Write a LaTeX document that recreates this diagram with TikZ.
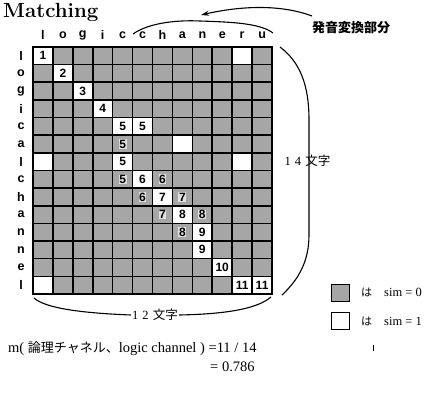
\documentclass[tikz,border=0pt]{standalone}
\usepackage{fontspec}
\newfontfamily\tms{Liberation Serif}
\newfontfamily\hv{Liberation Sans}
\newfontfamily\cjk{Noto Sans CJK JP}
\usetikzlibrary{arrows.meta}
\definecolor{halftone}{gray}{0.65}
\tikzset{
  gridline/.style={line width=1.6pt, line cap=rect},
  lab/.style={font=\hv\bfseries\fontsize{12.5}{12.5}\selectfont, inner sep=0pt},
  num/.style={font=\hv\bfseries\fontsize{12}{12}\selectfont, inner sep=0.6pt},
  numsh/.style={num, fill=black!12},
  brace/.style={line width=1.1pt},
  txt/.style={font=\tms\fontsize{14.5}{14.5}\selectfont, inner sep=0pt},
}
\begin{document}
\begin{tikzpicture}[x=1pt,y=-1pt]
\useasboundingbox (0,0) rectangle (426,397);
\def\cw{19.92}\def\ch{17.64}
% title
\node[anchor=base west, inner sep=0pt, font=\bfseries\fontsize{20.5}{20.5}\selectfont] (title) at (3,17) {Matching};
% cells
\fill[halftone] (33,47) rectangle (272,294);
\foreach \r/\c in {0/0,1/1,2/2,3/3,4/4,4/5,0/10,5/7,6/0,6/4,6/10,7/5,8/6,9/7,10/8,11/8,12/9,13/10,13/11,13/0}
  \fill[white] ({33+\c*\cw},{47+\r*\ch}) rectangle ++(\cw,\ch);
\foreach \i in {0,...,12} \draw[gridline] ({33+\i*\cw},47) -- ({33+\i*\cw},294);
\foreach \j in {0,...,14} \draw[gridline] (33,{47+\j*\ch}) -- (272,{47+\j*\ch});
% numbers in white cells
\foreach \r/\c/\n in {0/0/1,1/1/2,2/2/3,3/3/4,4/4/5,4/5/5,6/4/5,7/5/6,8/6/7,9/7/8,10/8/9,11/8/9,12/9/10,13/10/11,13/11/11}
  \node[num] (n\r-\c) at ({33+(\c+0.5)*\cw},{47+(\r+0.5)*\ch}) {\n};
% numbers in shaded cells
\foreach \r/\c/\n in {5/4/5,7/4/5,7/6/6,8/5/6,8/7/7,9/6/7,9/8/8,10/7/8}
  \node[numsh] (n\r-\c) at ({33+(\c+0.5)*\cw},{47+(\r+0.5)*\ch}) {\n};
% column / row letters
\foreach \l [count=\k from 0] in {l,o,g,i,c,c,h,a,n,e,r,u}
  \node[lab] (col\k) at ({33+(\k+0.5)*\cw},35) {\l};
\foreach \l [count=\k from 0] in {l,o,g,i,c,a,l,c,h,a,n,n,e,l}
  \node[lab] (row\k) at (21,{47+(\k+0.5)*\ch}) {\l};
% top arc over "chaneru" and arrow
\coordinate (arcL) at (133,34);
\coordinate (arcM) at (200,21);
\coordinate (arcR) at (273,33);
\draw[brace] (arcL) .. controls (150,22) and (180,20) .. (arcM) .. controls (230,22) and (260,23) .. (arcR);
\node[anchor=west, inner sep=0pt, font=\cjk\bfseries\fontsize{13}{13}\selectfont] (phon) at (312,28) {発音変換部分};
\coordinate (arrS) at (312,16);
\coordinate (arrE) at (201,15);
\draw[line width=1.1pt, -{Stealth[length=8pt,width=5pt]}] (arrS) .. controls (280,4) and (240,6) .. (arrE);
% right brace
\coordinate (rbT) at (280,47);
\coordinate (rbB) at (282,295);
\draw[brace] (rbT) .. controls (300,62) and (309,85) .. (309,120) -- (309,235) .. controls (309,262) and (298,280) .. (rbB);
\node[inner sep=0pt, font=\tms\fontsize{12.5}{12.5}\selectfont] (r14) at (307.5,161) {1\,\,4\,\,{\cjk 文字}};
% bottom brace
\node[inner sep=1pt, font=\tms\fontsize{12.5}{12.5}\selectfont] (b12) at (155,315) {1\,\,2\,\,{\cjk 文字}};
\coordinate (bbL) at (34,298);
\coordinate (bbR) at (271,297);
\draw[brace] (bbL) .. controls (45,308) and (80,313) .. (b12.west);
\draw[brace] (b12.east) .. controls (230,314) and (258,308) .. (bbR);
% legend
\node[draw, line width=0.8pt, fill=halftone, minimum width=18pt, minimum height=17pt, inner sep=0pt] (leg0) at (340,292.5) {};
\node[draw, line width=0.8pt, fill=white, minimum width=18pt, minimum height=17pt, inner sep=0pt] (leg1) at (340,321) {};
\node[anchor=west, inner sep=0pt, font=\cjk\fontsize{11}{11}\selectfont] (ha0) at (361,292.5) {は};
\node[anchor=west, inner sep=0pt, font=\cjk\fontsize{11}{11}\selectfont] (ha1) at (361,321) {は};
\node[anchor=west, txt, font=\tms\fontsize{12.5}{12.5}\selectfont] (s0) at (384,292.5) {sim = 0};
\node[anchor=west, txt, font=\tms\fontsize{12.5}{12.5}\selectfont] (s1) at (384,321) {sim = 1};
% formula
\node[anchor=base west, txt] (f1) at (8,352) {m( {\cjk\fontsize{13}{13}\selectfont 論理チャネル、}logic channel ) =11 / 14};
\node[anchor=base west, txt] (f2) at (210,371) {= 0.786};
\coordinate (tk) at (373,345);
\draw[line width=1pt] (tk) -- ++(0,6);
\end{tikzpicture}
\end{document}
